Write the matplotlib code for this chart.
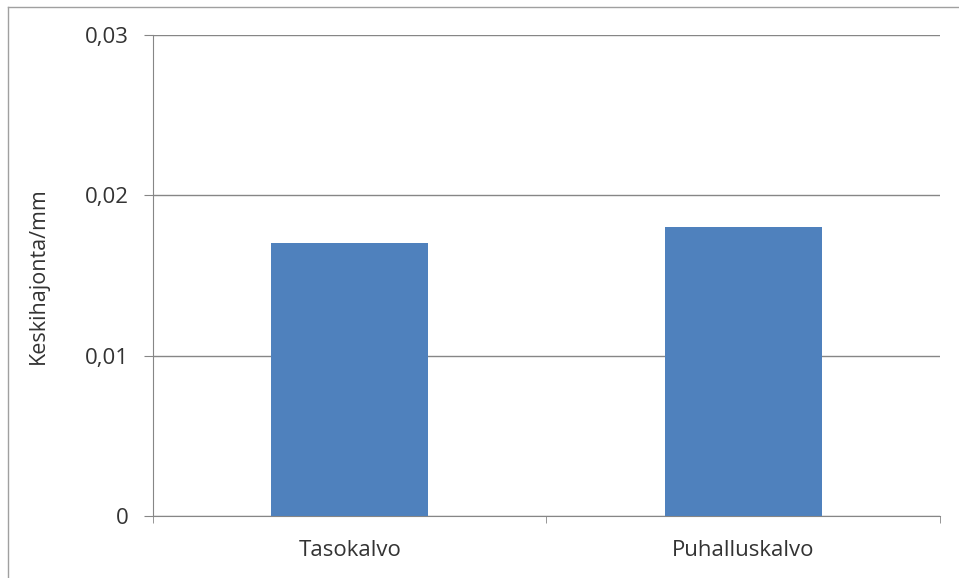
import matplotlib
matplotlib.use("Agg")
import matplotlib.pyplot as plt
from matplotlib.lines import Line2D

categories = ["Tasokalvo", "Puhalluskalvo"]
values = [0.017, 0.018]
yticks = [0, 0.01, 0.02, 0.03]
ytick_labels = ["0", "0,01", "0,02", "0,03"]

plt.rcParams['font.family'] = ['Open Sans', 'DejaVu Sans']

fig = plt.figure(figsize=(9.59, 5.78), dpi=100)
ax = fig.add_axes([0.1595, 0.1073, 0.8207, 0.8322])

pos = [0.5 + i for i in range(len(categories))]
ax.bar(pos, values, width=0.4, color="#4F81BD", zorder=3)

ax.set_xlim(0, len(categories))
ax.set_ylim(0, 0.03)
ax.set_yticks(yticks)
ax.set_yticklabels(ytick_labels, fontsize=16, color="#333333")
ax.set_xticks(pos)
ax.set_xticklabels(categories, fontsize=16, color="#333333")
ax.set_xticks([0, 1, 2], minor=True)
ax.tick_params(axis="x", which="major", length=0, pad=17)
ax.tick_params(axis="x", which="minor", length=5, color="#868686")
ax.tick_params(axis="y", length=6.5, color="#868686", pad=11)

ax.grid(axis="y", color="#868686", linewidth=1, zorder=0)
for s in ["top", "right"]:
    ax.spines[s].set_visible(False)
ax.spines["left"].set_color("#868686")
ax.spines["bottom"].set_color("#868686")

ax.set_ylabel("Keskihajonta/mm", fontsize=15.5, color="#333333", labelpad=26)

# outer chart border (top and left edges visible)
fig.add_artist(Line2D([8 / 959, 1], [1 - 7 / 578, 1 - 7 / 578], color="#a0a0a0", lw=1))
fig.add_artist(Line2D([8 / 959, 8 / 959], [0, 1 - 7 / 578], color="#a0a0a0", lw=1))

fig.savefig("out.png", dpi=100)
